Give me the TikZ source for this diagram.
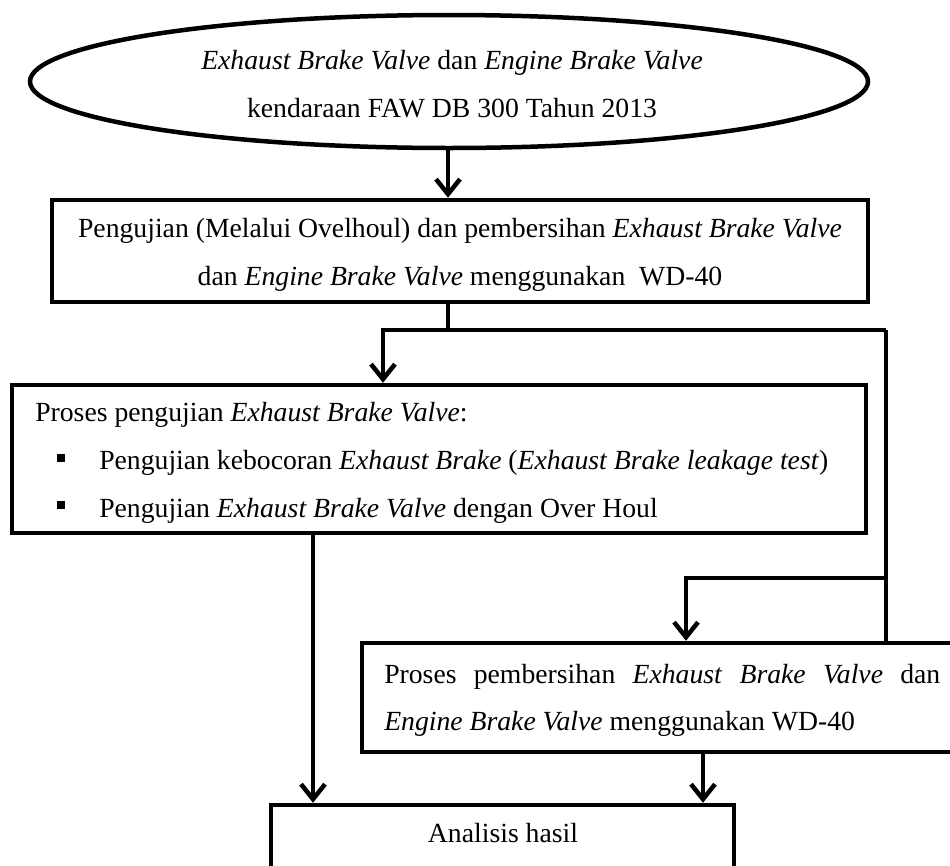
\documentclass[tikz,border=0pt]{standalone}
\usepackage{fontspec}
\setmainfont{Liberation Serif}
\usetikzlibrary{arrows.meta,shapes.geometric}
\begin{document}
\begin{tikzpicture}[x=1pt,y=-1pt,
  line width=4.5pt,
  txt/.style={inner sep=0pt, font=\fontsize{27.7}{48}\selectfont},
  boxnode/.style={draw, rectangle, inner sep=0pt, line width=4.5pt},
  arr/.style={-{Straight Barb[length=15pt,width=24pt]}, line width=4.5pt},
  bul/.style={fill=black, draw=none, rectangle, minimum size=8pt, inner sep=0pt}]
\clip (0,0) rectangle (950,865);
% start ellipse
\node[draw, ellipse, minimum width=838pt, minimum height=133pt, inner sep=0pt] (e) at (449,81.5) {};
\node[txt, anchor=base] (et1) at (452,69) {\textit{Exhaust Brake Valve} dan \textit{Engine Brake Valve}};
\node[txt, anchor=base] (et2) at (452,117) {kendaraan FAW DB 300 Tahun 2013};
% box 1
\node[boxnode, minimum width=816pt, minimum height=102pt] (b1) at (460,251) {};
\node[txt, anchor=base] (b1t1) at (460,237) {Pengujian (Melalui Ovelhoul) dan pembersihan \textit{Exhaust Brake Valve}};
\node[txt, anchor=base] (b1t2) at (460,285) {dan \textit{Engine Brake Valve} menggunakan\ \ WD-40};
% box 2
\node[boxnode, minimum width=854pt, minimum height=148pt] (b2) at (439,459) {};
\node[txt, anchor=base west] (b2t1) at (33,421) {Proses pengujian \textit{Exhaust Brake Valve}:};
\node[bul] (bu1) at (61,458) {};
\node[txt, anchor=base west] (b2t2) at (97,469) {Pengujian kebocoran \textit{Exhaust Brake} (\textit{Exhaust Brake leakage test})};
\node[bul] (bu2) at (61,505) {};
\node[txt, anchor=base west] (b2t3) at (97,517) {Pengujian \textit{Exhaust Brake Valve} dengan Over Houl};
% box 3
\node[boxnode, minimum width=628pt, minimum height=109pt] (b3) at (676,697.5) {};
\node[txt, anchor=base west] (b3t1) at (382,683) {\makebox[556pt][s]{Proses\hfill pembersihan\hfill \textit{Exhaust}\hfill \textit{Brake}\hfill \textit{Valve}\hfill dan}};
\node[txt, anchor=base west] (b3t2) at (382,730) {\textit{Engine Brake Valve} menggunakan WD-40};
% box 4
\node[boxnode, minimum width=463pt, minimum height=95pt] (b4) at (502.5,852.5) {};
\node[txt, anchor=base] (b4t) at (503,842) {Analisis hasil};
% junctions
\coordinate (j1) at (448,330);
\coordinate (jl) at (383,330);
\coordinate (jr) at (886,330);
\coordinate (j2) at (886,578);
\coordinate (j3) at (686,578);
% connectors
\draw[arr] (e.south -| j1) -- (b1.north -| j1);
\draw (b1.south -| j1) -- (j1);
\draw[arr] (jr) -- (jl) -- (b2.north -| jl);
\draw (jr) -- (b3.north -| jr);
\draw[arr] (j2) -- (j3) -- (b3.north -| j3);
\draw[arr] (b2.south -| 313,0) -- (b4.north -| 313,0);
\draw[arr] (b3.south -| 703,0) -- (b4.north -| 703,0);
\end{tikzpicture}
\end{document}
